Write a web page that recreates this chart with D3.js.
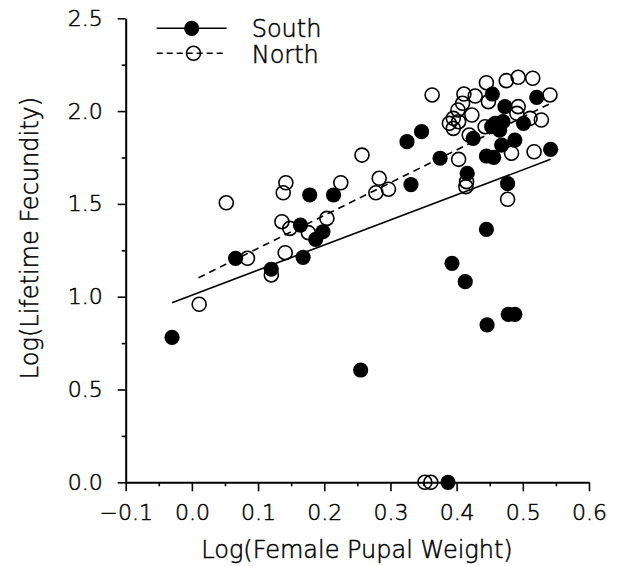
<!DOCTYPE html>
<html>
<head>
<meta charset="utf-8">
<script src="https://cdn.jsdelivr.net/npm/d3@7"></script>
<style>
  html, body { margin: 0; padding: 0; background: #fff; }
  svg { display: block; }
  text { font-family: "DejaVu Sans", sans-serif; font-weight: 200; fill: #000;
         stroke: #000; stroke-width: 0.5; }
</style>
</head>
<body>
<svg id="chart" width="618" height="566"></svg>
<script>
// South population: [log pupal weight, log lifetime fecundity]
const southPoints = [
  [-0.030, 0.781], [0.066, 1.207], [0.120, 1.148], [0.168, 1.212],
  [0.164, 1.386], [0.178, 1.548], [0.187, 1.309], [0.198, 1.350],
  [0.214, 1.548], [0.255, 0.605], [0.325, 1.835], [0.331, 1.604],
  [0.347, 1.889], [0.375, 1.746], [0.387, 0.000], [0.393, 1.180],
  [0.413, 1.081], [0.416, 1.665], [0.425, 1.853], [0.445, 1.758],
  [0.445, 1.363], [0.446, 0.848], [0.454, 2.092], [0.456, 1.751],
  [0.453, 1.916], [0.458, 1.934], [0.465, 1.898], [0.468, 1.817],
  [0.470, 1.943], [0.473, 2.024], [0.477, 1.609], [0.478, 0.905],
  [0.488, 0.905], [0.488, 1.844], [0.501, 1.934], [0.521, 2.074],
  [0.542, 1.794]
];

// North population
const northPoints = [
  [0.011, 0.959], [0.052, 1.506], [0.084, 1.207], [0.120, 1.117],
  [0.136, 1.404], [0.138, 1.560], [0.141, 1.237], [0.142, 1.614],
  [0.148, 1.368], [0.176, 1.345], [0.204, 1.422], [0.225, 1.614],
  [0.257, 1.763], [0.278, 1.560], [0.283, 1.638], [0.297, 1.579],
  [0.352, 0.000], [0.361, 0.000], [0.363, 2.087], [0.389, 1.934],
  [0.395, 1.961], [0.395, 1.907], [0.402, 2.006], [0.403, 1.943],
  [0.403, 1.740], [0.409, 2.042], [0.411, 2.092], [0.414, 1.593],
  [0.415, 1.620], [0.419, 1.871], [0.423, 1.979], [0.428, 2.081],
  [0.443, 1.916], [0.445, 2.153], [0.448, 2.051], [0.475, 2.164],
  [0.477, 1.525], [0.483, 1.773], [0.491, 1.988], [0.493, 2.182],
  [0.493, 2.024], [0.511, 1.961], [0.515, 2.177], [0.517, 1.781],
  [0.528, 1.952], [0.541, 2.087]
];

// Fitted regression lines (endpoints span each population's weight range)
const southFit = [[-0.030, 0.968], [0.542, 1.740]];
const northFit = [[0.010, 1.102], [0.541, 2.040]];

const xMajorTicks = [-0.1, 0.0, 0.1, 0.2, 0.3, 0.4, 0.5, 0.6];
const xMinorTicks = [-0.05, 0.05, 0.15, 0.25, 0.35, 0.45, 0.55];
const yMajorTicks = [0.0, 0.5, 1.0, 1.5, 2.0, 2.5];
const yMinorTicks = [0.25, 0.75, 1.25, 1.75, 2.25];

const seriesNames = ["South", "North"];
const xTitle = "Log(Female Pupal Weight)";
const yTitle = "Log(Lifetime Fecundity)";

const svg = d3.select("#chart");

const x = d3.scaleLinear().domain([-0.1, 0.6]).range([125.7, 589]);
const y = d3.scaleLinear().domain([0, 2.5]).range([482.3, 18.3]);
const fmt = d3.format(".1f");

// --- axes ---
const xAxisG = svg.append("g").attr("transform", `translate(0,${y(0)})`);
xAxisG.call(d3.axisBottom(x).tickValues(xMajorTicks).tickFormat(fmt)
  .tickSizeInner(9).tickSizeOuter(0).tickPadding(13));
const xMinorG = svg.append("g").attr("transform", `translate(0,${y(0)})`);
xMinorG.call(d3.axisBottom(x).tickValues(xMinorTicks).tickFormat("")
  .tickSizeInner(4).tickSizeOuter(0));
xMinorG.select(".domain").remove();

const yAxisG = svg.append("g").attr("transform", `translate(${x(-0.1)},0)`);
yAxisG.call(d3.axisLeft(y).tickValues(yMajorTicks).tickFormat(fmt)
  .tickSizeInner(8).tickSizeOuter(0).tickPadding(15));
const yMinorG = svg.append("g").attr("transform", `translate(${x(-0.1)},0)`);
yMinorG.call(d3.axisLeft(y).tickValues(yMinorTicks).tickFormat("")
  .tickSizeInner(4).tickSizeOuter(0));
yMinorG.select(".domain").remove();

svg.selectAll(".domain").attr("stroke", "#000").attr("stroke-width", 2);
svg.selectAll(".tick line").attr("stroke", "#000").attr("stroke-width", 1.6);
svg.selectAll(".tick text")
  .attr("font-family", "DejaVu Sans, sans-serif")
  .attr("font-weight", 200)
  .attr("font-size", 22).attr("fill", "#000")
  .attr("stroke", "#000").attr("stroke-width", 0.5);

// axis titles
svg.append("text")
  .attr("x", 357).attr("y", 558)
  .attr("text-anchor", "middle")
  .attr("font-size", 24)
  .text(xTitle);

svg.append("text")
  .attr("transform", "translate(38,238) rotate(-90)")
  .attr("text-anchor", "middle")
  .attr("font-size", 24)
  .text(yTitle);

// --- regression lines ---
const line = d3.line().x(d => x(d[0])).y(d => y(d[1]));
svg.append("path").datum(southFit)
  .attr("d", line).attr("fill", "none")
  .attr("stroke", "#000").attr("stroke-width", 1.6);
svg.append("path").datum(northFit)
  .attr("d", line).attr("fill", "none")
  .attr("stroke", "#000").attr("stroke-width", 1.6)
  .attr("stroke-dasharray", "7,5");

// --- points ---
svg.append("g").selectAll("circle").data(northPoints).join("circle")
  .attr("cx", d => x(d[0])).attr("cy", d => y(d[1])).attr("r", 7)
  .attr("fill", "none").attr("stroke", "#000").attr("stroke-width", 1.6);

svg.append("g").selectAll("circle").data(southPoints).join("circle")
  .attr("cx", d => x(d[0])).attr("cy", d => y(d[1])).attr("r", 7.6)
  .attr("fill", "#000");

// --- legend ---
const legend = svg.append("g");
const legendRows = [
  { name: seriesNames[0], ly: 28.3, ty: 36.7, dash: null, filled: true },
  { name: seriesNames[1], ly: 53.3, ty: 63.3, dash: "6,4", filled: false }
];
legendRows.forEach(r => {
  legend.append("line")
    .attr("x1", 156.7).attr("x2", 226.7).attr("y1", r.ly).attr("y2", r.ly)
    .attr("stroke", "#000").attr("stroke-width", 1.6)
    .attr("stroke-dasharray", r.dash);
  legend.append("circle")
    .attr("cx", r.filled ? 191.7 : 193.5).attr("cy", r.ly)
    .attr("r", r.filled ? 7.6 : 7)
    .attr("fill", r.filled ? "#000" : "none")
    .attr("stroke", "#000").attr("stroke-width", r.filled ? 0 : 1.6);
  legend.append("text")
    .attr("x", 251.7).attr("y", r.ty)
    .attr("font-size", 24)
    .text(r.name);
});
</script>
</body>
</html>
